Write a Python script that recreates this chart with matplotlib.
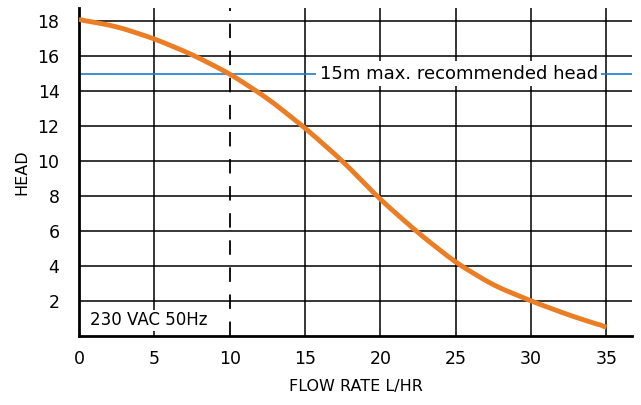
import matplotlib.pyplot as plt
import numpy as np

# Значення кривої
flow = [0, 2.5, 5, 7.5, 10, 12.5, 15, 17.5, 20, 22.5, 25, 27.5, 30, 32.5, 35]
head = [18.1, 17.7, 17.0, 16.1, 15.0, 13.6, 11.9, 10.0, 7.8, 5.9, 4.2, 2.9, 2.0, 1.2, 0.5]
x_ticks = [0, 5, 10, 15, 20, 25, 30, 35]
y_ticks = [2, 4, 6, 8, 10, 12, 14, 16, 18]
max_head = 15
marker_flow = 10

plt.rcParams['font.family'] = ['DejaVu Sans']

fig = plt.figure(figsize=(6.41, 4.05), dpi=100)
ax = fig.add_axes([0.1232, 0.1704, 0.8628, 0.8096])

# Плавна крива через зчитані точки
xs = np.linspace(flow[0], flow[-1], 300)
ys = np.interp(xs, flow, head)
k = np.ones(15) / 15
ys_s = np.convolve(np.pad(ys, 7, mode='edge'), k, mode='valid')
ys_s[:3] = ys[:3]
ys_s[-3:] = ys[-3:]

ax.set_xlim(0, 36.7)
ax.set_ylim(0, 18.75)
ax.set_xticks(x_ticks)
ax.set_yticks(y_ticks)
ax.tick_params(length=0, labelsize=12.5, pad=10)
ax.tick_params(axis='y', pad=14)
ax.grid(True, axis='y', color='black', linewidth=1.1)
# вертикальна сітка без лінії на 10 - там пунктир
for xv in x_ticks:
    if xv != marker_flow and xv != 0:
        ax.axvline(xv, color='black', linewidth=1.1, zorder=0.5)
ax.set_axisbelow(True)

for s in ['top', 'right']:
    ax.spines[s].set_visible(False)
ax.spines['left'].set_linewidth(2)
ax.spines['bottom'].set_linewidth(2)

ax.axhline(max_head, color='#1f7ccc', linewidth=1.2, zorder=2)
ax.axvline(marker_flow, color='black', linewidth=1.3, dashes=(8, 7), zorder=2)
ax.plot(xs, ys_s, color='#eb7d24', linewidth=3.5, solid_capstyle='butt', zorder=4)

ax.text(25.2, max_head, '15m max. recommended head', fontsize=13, ha='center', va='center',
        bbox=dict(facecolor='white', edgecolor='none', pad=2.5), zorder=3)
ax.text(0.73, 0.9, '230 VAC 50Hz', fontsize=12, ha='left', va='center',
        bbox=dict(facecolor='white', edgecolor='none', pad=1), zorder=3)

ax.set_xlabel('FLOW RATE L/HR', fontsize=11.5, labelpad=8)
ax.set_ylabel('HEAD', fontsize=11.5, labelpad=6)

plt.savefig('out.png', dpi=100)
